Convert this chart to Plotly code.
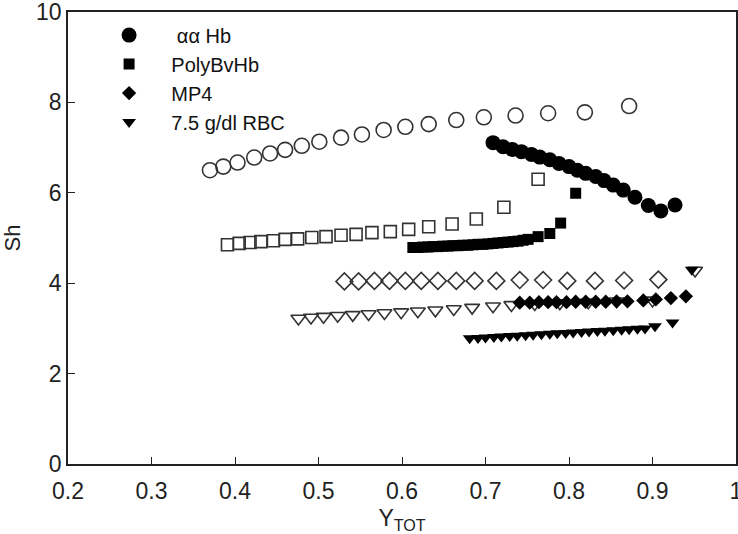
import plotly.graph_objects as go

# ---------------- data ----------------
names = ["\u00a0\u00a0\u00a0\u00a0\u00a0αα Hb", "\u00a0\u00a0\u00a0\u00a0PolyBvHb",
         "\u00a0\u00a0\u00a0\u00a0MP4", "\u00a0\u00a0\u00a0\u00a07.5 g/dl RBC"]

# open symbols
aaHb_open_x = [0.370, 0.386, 0.403, 0.423, 0.442, 0.460, 0.480, 0.501, 0.527, 0.552,
               0.578, 0.604, 0.632, 0.665, 0.698, 0.736, 0.775, 0.819, 0.872]
aaHb_open_y = [6.50, 6.58, 6.67, 6.78, 6.87, 6.95, 7.04, 7.13, 7.22, 7.29,
               7.39, 7.46, 7.52, 7.61, 7.67, 7.71, 7.76, 7.78, 7.92]

poly_open_x = [0.391, 0.405, 0.418, 0.431, 0.446, 0.460, 0.475, 0.492, 0.509, 0.527,
               0.545, 0.564, 0.586, 0.608, 0.632, 0.660, 0.689, 0.722, 0.763]
poly_open_y = [4.85, 4.88, 4.90, 4.92, 4.94, 4.97, 4.98, 5.01, 5.03, 5.06,
               5.08, 5.12, 5.14, 5.19, 5.25, 5.31, 5.42, 5.68, 6.30]

mp4_open_x = [0.531, 0.548, 0.567, 0.585, 0.604, 0.623, 0.643, 0.665, 0.687, 0.713,
              0.741, 0.769, 0.798, 0.831, 0.866, 0.907]
mp4_open_y = [4.04, 4.04, 4.05, 4.05, 4.05, 4.05, 4.05, 4.05, 4.05, 4.05,
              4.07, 4.07, 4.05, 4.05, 4.06, 4.08]

rbc_open_x = [0.476, 0.491, 0.506, 0.523, 0.541, 0.560, 0.579, 0.599, 0.619, 0.640,
              0.662, 0.684, 0.709, 0.731, 0.759, 0.789, 0.823, 0.857, 0.900, 0.951]
rbc_open_y = [3.22, 3.24, 3.26, 3.28, 3.30, 3.32, 3.34, 3.36, 3.38, 3.40,
              3.43, 3.46, 3.49, 3.52, 3.54, 3.56, 3.58, 3.60, 3.62, 4.28]

# filled symbols
aaHb_x = [0.709, 0.721, 0.732, 0.743, 0.755, 0.765, 0.777, 0.788, 0.800, 0.810,
          0.820, 0.832, 0.842, 0.853, 0.865, 0.879, 0.895, 0.910, 0.927]
aaHb_y = [7.11, 7.02, 6.96, 6.91, 6.85, 6.79, 6.73, 6.65, 6.58, 6.50,
          6.43, 6.36, 6.27, 6.17, 6.06, 5.90, 5.72, 5.60, 5.73]

poly_x = [0.613, 0.619, 0.625, 0.631, 0.637, 0.643, 0.649, 0.655, 0.661, 0.667,
          0.673, 0.679, 0.685, 0.691, 0.697, 0.703, 0.709, 0.715, 0.721, 0.727,
          0.733, 0.739, 0.745, 0.751, 0.763, 0.777, 0.790, 0.808]
poly_y = [4.79, 4.79, 4.80, 4.80, 4.81, 4.81, 4.82, 4.82, 4.83, 4.83,
          4.84, 4.84, 4.85, 4.86, 4.86, 4.87, 4.88, 4.89, 4.90, 4.91,
          4.92, 4.93, 4.95, 4.97, 5.03, 5.10, 5.33, 5.99]

mp4_x = [0.741, 0.753, 0.764, 0.775, 0.785, 0.797, 0.808, 0.820, 0.832, 0.844,
         0.857, 0.870, 0.889, 0.904, 0.922, 0.940]
mp4_y = [3.57, 3.57, 3.58, 3.58, 3.58, 3.58, 3.59, 3.59, 3.59, 3.59,
         3.60, 3.60, 3.62, 3.64, 3.67, 3.71]

rbc_x = [0.681, 0.691, 0.700, 0.710, 0.719, 0.729, 0.738, 0.748, 0.757, 0.767,
         0.777, 0.786, 0.796, 0.805, 0.815, 0.824, 0.834, 0.843, 0.853, 0.863,
         0.872, 0.882, 0.891, 0.903, 0.924, 0.947]
rbc_y = [2.78, 2.79, 2.80, 2.81, 2.82, 2.83, 2.84, 2.85, 2.86, 2.87,
         2.88, 2.89, 2.90, 2.91, 2.92, 2.93, 2.94, 2.95, 2.96, 2.97,
         2.98, 2.99, 3.00, 3.05, 3.13, 4.30]

x_ticks = [0.2, 0.3, 0.4, 0.5, 0.6, 0.7, 0.8, 0.9, 1.0]
x_tick_text = ["0.2", "0.3", "0.4", "0.5", "0.6", "0.7", "0.8", "0.9", "1"]
y_ticks = [0, 2, 4, 6, 8, 10]

# ---------------- figure ----------------
OPEN_LINE = "#333333"
TICK_FONT = "Liberation Sans Narrow, Arial Narrow, Liberation Sans, Arial, sans-serif"
fig = go.Figure()

open_specs = [
    (aaHb_open_x, aaHb_open_y, "circle-open", 15),
    (poly_open_x, poly_open_y, "square-open", 12),
    (mp4_open_x, mp4_open_y, "diamond-open", 13),
    (rbc_open_x, rbc_open_y, "triangle-down-open", 13),
]
for xs, ys, sym, sz in open_specs:
    fig.add_trace(go.Scatter(
        x=xs, y=ys, mode="markers", showlegend=False,
        marker=dict(symbol=sym, size=sz, color=OPEN_LINE,
                    line=dict(width=1.6, color=OPEN_LINE)),
    ))

filled_specs = [
    (aaHb_x, aaHb_y, "circle", 15, names[0]),
    (poly_x, poly_y, "square", 11, names[1]),
    (mp4_x, mp4_y, "diamond", 11, names[2]),
    (rbc_x, rbc_y, "triangle-down", 12, names[3]),
]
for xs, ys, sym, sz, nm in filled_specs:
    fig.add_trace(go.Scatter(
        x=xs, y=ys, mode="markers", name=nm,
        marker=dict(symbol=sym, size=sz, color="black",
                    line=dict(width=0, color="black")),
    ))

axis_common = dict(
    showgrid=False, zeroline=False, showline=True, mirror=True,
    linecolor="#222222", linewidth=1.5,
    ticks="inside", ticklen=7, tickwidth=1, tickcolor="#222222",
    ticklabeloverflow="allow", automargin=False,
    tickfont=dict(family=TICK_FONT, size=23, color="#222222"),
)

fig.update_xaxes(range=[0.2, 1.0], tickvals=x_ticks, ticktext=x_tick_text,
                 ticklabelstandoff=6,
                 title=dict(text="Y<sub>TOT</sub>",
                            font=dict(family=TICK_FONT, size=23, color="#222222")),
                 **axis_common)
fig.update_yaxes(range=[0, 10], tickvals=y_ticks,
                 title=dict(text="Sh",
                            font=dict(family="Liberation Sans, Arial, sans-serif",
                                      size=22, color="#222222")),
                 **axis_common)

fig.update_layout(
    width=738, height=534,
    margin=dict(l=68, r=2, t=12, b=70, autoexpand=False),
    paper_bgcolor="white", plot_bgcolor="white",
    legend=dict(x=0.0615, y=0.992, xanchor="left", yanchor="top",
                bgcolor="rgba(0,0,0,0)", borderwidth=0,
                font=dict(family="Liberation Sans, Arial, sans-serif", size=20, color="#111111")),
)

fig.write_html("out.html", config={"displayModeBar": False},
               post_script="document.body.style.margin='0';document.body.style.overflow='hidden';")
